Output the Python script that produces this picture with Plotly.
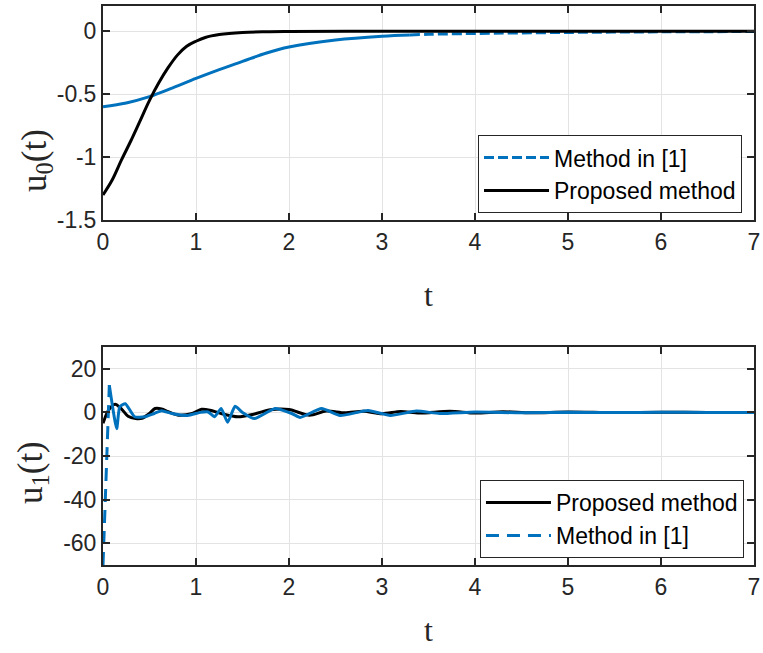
import plotly.graph_objects as go
from plotly.subplots import make_subplots

# ---- data: top panel u0(t) ----
t_u0_m1 = [0, 0.25, 0.5, 0.75, 1.0, 1.25, 1.5, 1.75, 2.0, 2.5, 3.0, 3.3, 3.5, 4.0, 5.0, 6.0, 7.0]
u0_m1 = [-0.6, -0.57, -0.52, -0.45, -0.375, -0.305, -0.24, -0.175, -0.125, -0.07, -0.04, -0.03, -0.025, -0.018, -0.01, -0.005, -0.003]

t_u0_prop = [0, 0.1, 0.2, 0.3, 0.4, 0.5, 0.6, 0.7, 0.8, 0.9, 1.0, 1.1, 1.25, 1.5, 1.75, 2.0, 3.0, 4.0, 5.0, 6.0, 7.0]
u0_prop = [-1.3, -1.18, -1.02, -0.87, -0.71, -0.55, -0.41, -0.29, -0.19, -0.12, -0.08, -0.05, -0.027, -0.01, -0.004, -0.002, 0, 0, 0, 0, 0]

# ---- data: bottom panel u1(t) ----
t_u1_prop = [0, 0.06, 0.13, 0.2, 0.27, 0.35, 0.42, 0.5, 0.56, 0.63, 0.7, 0.8, 0.96, 1.06, 1.15, 1.27, 1.45,
             1.63, 1.8, 2.0, 2.22, 2.4, 2.6, 2.8, 3.0, 3.2, 3.4, 3.73, 4.0, 4.3, 4.6, 5.0, 5.5, 6.0, 6.5, 7.0]
u1_prop = [-5, 1, 3.7, 1.5, -1.8, -2.8, -2.7, -0.5, 1.8, 1.6, 0.3, -1.2, -0.5, 1.4, 1.0, -0.5, -2.0,
           -0.7, 1.2, 1.3, -1.3, 0.6, -0.2, 0.5, -0.6, 0.4, -0.3, 0.5, -0.3, 0.3, -0.2, 0.2, -0.1, 0.1, 0, 0]

t_u1_m1 = [0, 0.068, 0.147, 0.18, 0.24, 0.34, 0.45, 0.55, 0.63, 0.74, 0.91, 1.05, 1.13, 1.2, 1.27, 1.34,
           1.42, 1.5, 1.63, 1.85, 2.03, 2.12, 2.35, 2.55, 2.85, 3.09, 3.37, 3.62, 4.0, 4.5, 5.0, 5.5, 6.0, 6.5, 7.0]
u1_m1 = [-70, 12.5, -7.5, 2.5, 4, -2, -2, -0.5, 0.8, -0.5, -1.4, 0, 0.2, -2, 1.8, -4.5,
         2.8, 0, -2.8, 1.8, -0.5, -2.3, 1.8, -1.4, 0.9, -1.4, 0.6, -0.5, 0.2, -0.2, 0.1, -0.1, 0.1, 0, 0]

x_ticks = [0, 1, 2, 3, 4, 5, 6, 7]
y0_ticks = [-1.5, -1, -0.5, 0]
y0_labels = ["-1.5", "-1", "-0.5", "0"]
y1_ticks = [-60, -40, -20, 0, 20]
y1_labels = ["-60", "-40", "-20", "0", "20"]

BLUE = "#0072BD"
DARK = "#262626"
DASH = "13px,8px"
TAIL_DASH = "10px,4px"
FS = 23
TICKFONT = dict(family="Liberation Sans, Arial", size=FS, color=DARK)
SERIF = "Liberation Serif, Times New Roman"

n_solid_top = t_u0_m1.index(3.3) + 1   # blue looks solid up to t=3.3, dashed after
n_steep_bot = 2                        # steep first rise of bottom blue drawn dashed

fig = make_subplots(rows=2, cols=1, vertical_spacing=0.0)

# top panel
fig.add_trace(go.Scatter(x=t_u0_m1[:n_solid_top], y=u0_m1[:n_solid_top], mode="lines",
                         line=dict(color=BLUE, width=3, shape="spline"),
                         showlegend=False, hoverinfo="skip"), row=1, col=1)
fig.add_trace(go.Scatter(x=t_u0_m1[n_solid_top - 1:], y=u0_m1[n_solid_top - 1:], mode="lines", name="Method in [1]",
                         line=dict(color=BLUE, width=3, dash=TAIL_DASH, shape="spline"),
                         legend="legend"), row=1, col=1)
fig.add_trace(go.Scatter(x=t_u0_prop, y=u0_prop, mode="lines", name="Proposed method",
                         line=dict(color="black", width=3, shape="spline"),
                         legend="legend"), row=1, col=1)

# bottom panel
fig.add_trace(go.Scatter(x=t_u1_prop, y=u1_prop, mode="lines", name="Proposed method",
                         line=dict(color="black", width=3, shape="spline", smoothing=0.8),
                         legend="legend2"), row=2, col=1)
fig.add_trace(go.Scatter(x=t_u1_m1[:n_steep_bot], y=u1_m1[:n_steep_bot], mode="lines", name="Method in [1]",
                         line=dict(color=BLUE, width=3, dash=DASH),
                         legend="legend2"), row=2, col=1)
fig.add_trace(go.Scatter(x=t_u1_m1[n_steep_bot - 1:], y=u1_m1[n_steep_bot - 1:], mode="lines",
                         line=dict(color=BLUE, width=3, shape="spline", smoothing=0.5),
                         showlegend=False, hoverinfo="skip"), row=2, col=1)

axis_common = dict(showline=True, linecolor=DARK, linewidth=2, mirror="ticks",
                   ticks="inside", ticklen=7, tickwidth=2, tickcolor=DARK,
                   showgrid=True, gridcolor="#e3e3e3", gridwidth=1,
                   zeroline=False, tickfont=TICKFONT, automargin=False)

fig.update_xaxes(range=[0, 7], tickvals=x_ticks, **axis_common)
fig.update_yaxes(**axis_common)
fig.update_yaxes(range=[-1.5, 0.2], tickvals=y0_ticks, ticktext=y0_labels, row=1, col=1)
fig.update_yaxes(range=[-70, 30], tickvals=y1_ticks, ticktext=y1_labels, row=2, col=1)

legend_common = dict(xanchor="right", yanchor="top", bgcolor="white", bordercolor=DARK,
                     borderwidth=1, itemwidth=65,
                     font=dict(family="Liberation Sans, Arial", size=FS, color="black"),
                     tracegroupgap=0)

fig.update_layout(
    width=763, height=653,
    margin=dict(l=103, r=9, t=6, b=88),
    plot_bgcolor="white", paper_bgcolor="white",
    xaxis=dict(domain=[0, 1]), yaxis=dict(domain=[0.617, 1.0]),
    xaxis2=dict(domain=[0, 1]), yaxis2=dict(domain=[0.0, 0.39]),
    legend=dict(x=0.9816, y=0.769, **legend_common),
    legend2=dict(x=0.9846, y=0.152, **legend_common),
    showlegend=True,
)

annots = [
    dict(text="t", x=0.5, y=0.483, xref="paper", yref="paper", showarrow=False,
         font=dict(family=SERIF, size=32, color=DARK), xanchor="center", yanchor="middle"),
    dict(text="t", x=0.5, y=-0.117, xref="paper", yref="paper", showarrow=False,
         font=dict(family=SERIF, size=32, color=DARK), xanchor="center", yanchor="middle"),
    dict(text="u<sub>0</sub>(t)", x=-0.103, y=0.7245, xref="paper", yref="paper", showarrow=False,
         textangle=-90, font=dict(family=SERIF, size=35, color=DARK), xanchor="center", yanchor="middle"),
    dict(text="u<sub>1</sub>(t)", x=-0.1075, y=0.1646, xref="paper", yref="paper", showarrow=False,
         textangle=-90, font=dict(family=SERIF, size=35, color=DARK), xanchor="center", yanchor="middle"),
]
fig.update_layout(annotations=annots)

fig.write_html("out.html", config={"displayModeBar": False},
               post_script="document.body.style.margin='0px';document.body.style.overflow='hidden';")
